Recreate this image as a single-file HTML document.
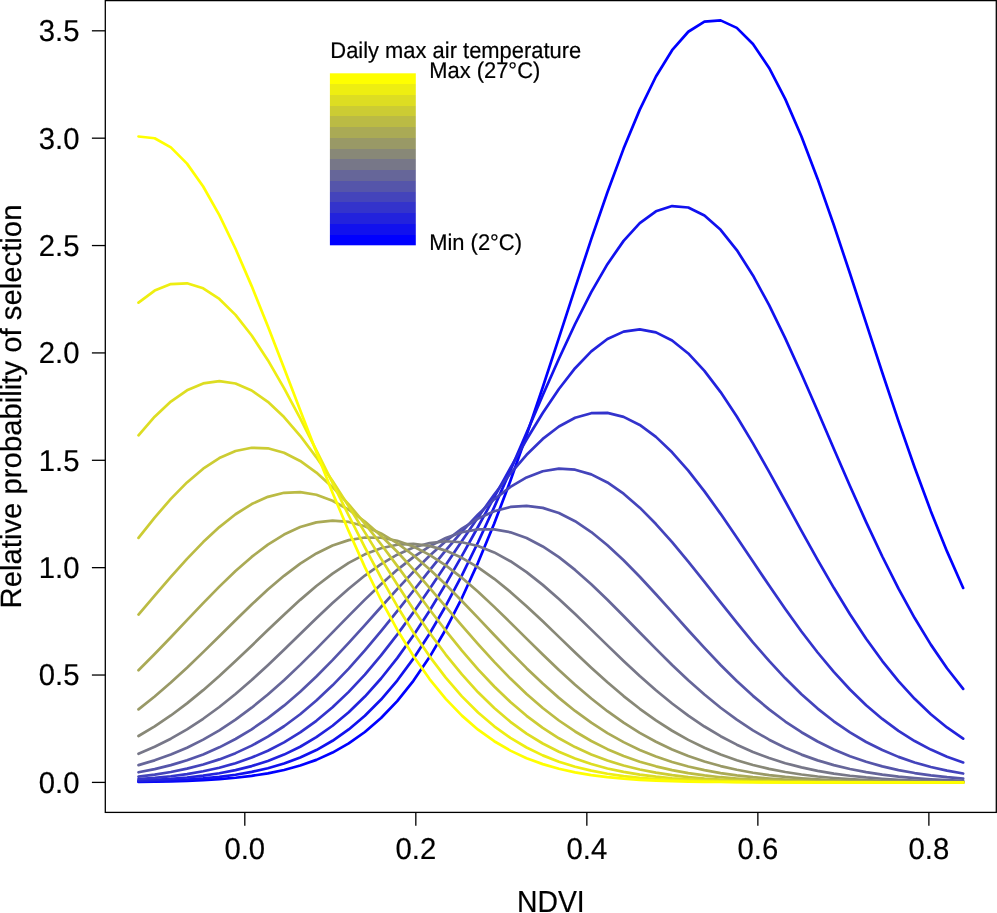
<!DOCTYPE html>
<html><head><meta charset="utf-8"><style>
html,body{margin:0;padding:0;background:#fff;}
svg{display:block;will-change:transform;}
text{font-family:"Liberation Sans",sans-serif;fill:#000;stroke:#000;stroke-width:0.2px;text-rendering:geometricPrecision;}
.t{font-size:30.2px;}
.l{font-size:29.3px;}
.n{font-size:30.5px;}
.g{font-size:22.7px;}
</style></head><body>
<svg width="997" height="913" viewBox="0 0 997 913">
<rect width="997" height="913" fill="#fff"/>
<g fill="none" stroke-width="2.7" stroke-linejoin="round" stroke-linecap="round">
<polyline points="138.50,781.92 154.67,781.68 170.84,781.32 187.01,780.82 203.18,780.11 219.35,779.11 235.52,777.73 251.69,775.86 267.86,773.33 284.03,769.98 300.20,765.57 316.37,759.88 332.54,752.60 348.71,743.43 364.88,732.01 381.05,718.01 397.22,701.07 413.39,680.85 429.56,657.06 445.73,629.49 461.90,598.01 478.07,562.60 494.24,523.41 510.41,480.76 526.58,435.14 542.75,387.22 558.92,337.87 575.09,288.13 591.26,239.15 607.43,192.21 623.60,148.60 639.77,109.62 655.94,76.47 672.11,50.22 688.28,31.76 704.45,21.70 720.62,20.40 736.79,27.89 752.96,43.92 769.13,67.95 785.30,99.16 801.47,136.54 817.64,178.91 833.81,225.00 849.98,273.51 866.15,323.15 882.32,372.73 898.49,421.17 914.66,467.56 930.83,511.15 947.00,551.40 963.17,587.94" stroke="#0000FF"/>
<polyline points="138.50,781.47 154.67,781.04 170.84,780.43 187.01,779.58 203.18,778.42 219.35,776.84 235.52,774.73 251.69,771.93 267.86,768.28 284.03,763.57 300.20,757.59 316.37,750.08 332.54,740.79 348.71,729.44 364.88,715.78 381.05,699.55 397.22,680.56 413.39,658.66 429.56,633.79 445.73,605.98 461.90,575.38 478.07,542.27 494.24,507.08 510.41,470.37 526.58,432.85 542.75,395.33 558.92,358.72 575.09,324.01 591.26,292.16 607.43,264.16 623.60,240.87 639.77,223.06 655.94,211.33 672.11,206.07 688.28,207.48 704.45,215.49 720.62,229.85 736.79,250.04 752.96,275.42 769.13,305.16 785.30,338.33 801.47,373.96 817.64,411.07 833.81,448.69 849.98,485.97 866.15,522.11 882.32,556.49 898.49,588.59 914.66,618.04 930.83,644.63 947.00,668.24 963.17,688.90" stroke="#1111EE"/>
<polyline points="138.50,780.64 154.67,779.90 170.84,778.88 187.01,777.50 203.18,775.66 219.35,773.24 235.52,770.10 251.69,766.07 267.86,760.97 284.03,754.59 300.20,746.74 316.37,737.20 332.54,725.77 348.71,712.27 364.88,696.54 381.05,678.51 397.22,658.13 413.39,635.48 429.56,610.69 445.73,584.05 461.90,555.91 478.07,526.77 494.24,497.20 510.41,467.89 526.58,439.56 542.75,413.00 558.92,388.96 575.09,368.20 591.26,351.38 607.43,339.04 623.60,331.62 639.77,329.36 655.94,332.34 672.11,340.46 688.28,353.44 704.45,370.84 720.62,392.09 736.79,416.52 752.96,443.37 769.13,471.88 785.30,501.27 801.47,530.82 817.64,559.86 833.81,587.81 849.98,614.22 866.15,638.72 882.32,661.07 898.49,681.13 914.66,698.84 930.83,714.25 947.00,727.46 963.17,738.62" stroke="#2222DD"/>
<polyline points="138.50,779.16 154.67,777.92 170.84,776.26 187.01,774.09 203.18,771.29 219.35,767.70 235.52,763.19 251.69,757.58 267.86,750.70 284.03,742.38 300.20,732.46 316.37,720.80 332.54,707.29 348.71,691.88 364.88,674.58 381.05,655.44 397.22,634.63 413.39,612.40 429.56,589.08 445.73,565.10 461.90,540.96 478.07,517.24 494.24,494.55 510.41,473.52 526.58,454.79 542.75,438.93 558.92,426.45 575.09,417.78 591.26,413.21 607.43,412.90 623.60,416.85 639.77,424.94 655.94,436.89 672.11,452.28 688.28,470.64 704.45,491.37 720.62,513.85 736.79,537.47 752.96,561.58 769.13,585.62 785.30,609.06 801.47,631.47 817.64,652.51 833.81,671.90 849.98,689.48 866.15,705.17 882.32,718.94 898.49,730.87 914.66,741.03 930.83,749.58 947.00,756.66 963.17,762.44" stroke="#3333CC"/>
<polyline points="138.50,776.60 154.67,774.58 170.84,771.98 187.01,768.67 203.18,764.53 219.35,759.40 235.52,753.15 251.69,745.62 267.86,736.69 284.03,726.25 300.20,714.23 316.37,700.58 332.54,685.33 348.71,668.57 364.88,650.45 381.05,631.22 397.22,611.19 413.39,590.74 429.56,570.33 445.73,550.45 461.90,531.64 478.07,514.43 494.24,499.35 510.41,486.87 526.58,477.41 542.75,471.27 558.92,468.68 575.09,469.72 591.26,474.35 607.43,482.42 623.60,493.65 639.77,507.67 655.94,524.03 672.11,542.22 688.28,561.70 704.45,581.95 720.62,602.44 736.79,622.70 752.96,642.32 769.13,660.95 785.30,678.31 801.47,694.22 817.64,708.57 833.81,721.29 849.98,732.41 866.15,741.97 882.32,750.08 898.49,756.87 914.66,762.46 930.83,767.01 947.00,770.65 963.17,773.54" stroke="#4444BB"/>
<polyline points="138.50,772.26 154.67,769.10 170.84,765.15 187.01,760.30 203.18,754.40 219.35,747.34 235.52,739.00 251.69,729.30 267.86,718.19 284.03,705.65 300.20,691.72 316.37,676.50 332.54,660.15 348.71,642.91 364.88,625.07 381.05,607.01 397.22,589.12 413.39,571.88 429.56,555.74 445.73,541.19 461.90,528.67 478.07,518.58 494.24,511.26 510.41,506.95 526.58,505.81 542.75,507.87 558.92,513.06 575.09,521.21 591.26,532.04 607.43,545.19 623.60,560.24 639.77,576.74 655.94,594.22 672.11,612.20 688.28,630.24 704.45,647.94 720.62,664.95 736.79,681.00 752.96,695.86 769.13,709.40 785.30,721.53 801.47,732.24 817.64,741.53 833.81,749.49 849.98,756.21 866.15,761.79 882.32,766.37 898.49,770.08 914.66,773.04 930.83,775.37 947.00,777.18 963.17,778.57" stroke="#5555AA"/>
<polyline points="138.50,765.13 154.67,760.35 170.84,754.58 187.01,747.71 203.18,739.64 219.35,730.30 235.52,719.65 251.69,707.70 267.86,694.51 284.03,680.17 300.20,664.88 316.37,648.85 332.54,632.39 348.71,615.86 364.88,599.63 381.05,584.15 397.22,569.83 413.39,557.12 429.56,546.40 445.73,538.03 461.90,532.29 478.07,529.38 494.24,529.38 510.41,532.31 526.58,538.06 542.75,546.44 558.92,557.17 575.09,569.89 591.26,584.21 607.43,599.70 623.60,615.93 639.77,632.46 655.94,648.92 672.11,664.94 688.28,680.24 704.45,694.57 720.62,707.76 736.79,719.70 752.96,730.34 769.13,739.68 785.30,747.74 801.47,754.61 817.64,760.38 833.81,765.15 849.98,769.04 866.15,772.17 882.32,774.66 898.49,776.61 914.66,778.12 930.83,779.28 947.00,780.14 963.17,780.79" stroke="#666699"/>
<polyline points="138.50,753.73 154.67,746.79 170.84,738.69 187.01,729.36 203.18,718.78 219.35,706.97 235.52,694.01 251.69,680.01 267.86,665.17 284.03,649.74 300.20,634.00 316.37,618.32 332.54,603.08 348.71,588.69 364.88,575.56 381.05,564.09 397.22,554.66 413.39,547.56 429.56,543.04 445.73,541.25 461.90,542.26 478.07,546.03 494.24,552.43 510.41,561.24 526.58,572.17 542.75,584.88 558.92,598.96 575.09,614.00 591.26,629.60 607.43,645.36 623.60,660.91 639.77,675.95 655.94,690.20 672.11,703.46 688.28,715.60 704.45,726.53 720.62,736.21 736.79,744.65 752.96,751.91 769.13,758.05 785.30,763.19 801.47,767.41 817.64,770.84 833.81,773.59 849.98,775.76 866.15,777.46 882.32,778.76 898.49,779.75 914.66,780.50 930.83,781.05 947.00,781.45 963.17,781.74" stroke="#777788"/>
<polyline points="138.50,736.03 154.67,726.36 170.84,715.46 187.01,703.37 203.18,690.16 219.35,676.00 235.52,661.08 251.69,645.66 267.86,630.08 284.03,614.67 300.20,599.85 316.37,586.01 332.54,573.57 348.71,562.90 364.88,554.36 381.05,548.23 397.22,544.72 413.39,543.94 429.56,545.92 445.73,550.60 461.90,557.82 478.07,567.33 494.24,578.81 510.41,591.92 526.58,606.24 542.75,621.36 558.92,636.89 575.09,652.45 591.26,667.68 607.43,682.30 623.60,696.07 639.77,708.80 655.94,720.38 672.11,730.74 688.28,739.87 704.45,747.79 720.62,754.57 736.79,760.27 752.96,765.01 769.13,768.89 785.30,772.03 801.47,774.53 817.64,776.50 833.81,778.02 849.98,779.19 866.15,780.08 882.32,780.74 898.49,781.22 914.66,781.58 930.83,781.83 947.00,782.01 963.17,782.14" stroke="#888877"/>
<polyline points="138.50,709.33 154.67,696.47 170.84,682.53 187.01,667.67 203.18,652.12 219.35,636.17 235.52,620.17 251.69,604.50 267.86,589.58 284.03,575.82 300.20,563.64 316.37,553.42 332.54,545.50 348.71,540.14 364.88,537.52 381.05,537.74 397.22,540.79 413.39,546.56 429.56,554.85 445.73,565.40 461.90,577.85 478.07,591.81 494.24,606.88 510.41,622.62 526.58,638.64 542.75,654.55 558.92,670.01 575.09,684.74 591.26,698.53 607.43,711.20 623.60,722.66 639.77,732.85 655.94,741.78 672.11,749.49 688.28,756.04 704.45,761.53 720.62,766.07 736.79,769.77 752.96,772.74 769.13,775.10 785.30,776.95 801.47,778.38 817.64,779.46 833.81,780.28 849.98,780.89 866.15,781.34 882.32,781.66 898.49,781.89 914.66,782.05 930.83,782.17 947.00,782.24 963.17,782.30" stroke="#999966"/>
<polyline points="138.50,670.21 154.67,654.04 170.84,637.24 187.01,620.14 203.18,603.13 219.35,586.63 235.52,571.08 251.69,556.93 267.86,544.63 284.03,534.56 300.20,527.04 316.37,522.35 332.54,520.64 348.71,521.96 364.88,526.27 381.05,533.43 397.22,543.19 413.39,555.23 429.56,569.16 445.73,584.55 461.90,600.96 478.07,617.93 494.24,635.04 510.41,651.89 526.58,668.16 542.75,683.56 558.92,697.87 575.09,710.94 591.26,722.70 607.43,733.09 623.60,742.15 639.77,749.92 655.94,756.50 672.11,761.98 688.28,766.49 704.45,770.15 720.62,773.07 736.79,775.38 752.96,777.18 769.13,778.56 785.30,779.61 801.47,780.40 817.64,780.98 833.81,781.40 849.98,781.71 866.15,781.93 882.32,782.08 898.49,782.18 914.66,782.26 930.83,782.31 947.00,782.34 963.17,782.36" stroke="#AAAA55"/>
<polyline points="138.50,614.58 154.67,595.59 170.84,576.85 187.01,558.86 203.18,542.10 219.35,527.08 235.52,514.26 251.69,504.06 267.86,496.82 284.03,492.78 300.20,492.08 316.37,494.75 332.54,500.70 348.71,509.72 364.88,521.50 381.05,535.67 397.22,551.77 413.39,569.31 429.56,587.80 445.73,606.74 461.90,625.68 478.07,644.19 494.24,661.93 510.41,678.60 526.58,694.01 542.75,708.00 558.92,720.50 575.09,731.49 591.26,741.02 607.43,749.16 623.60,756.00 639.77,761.68 655.94,766.32 672.11,770.07 688.28,773.05 704.45,775.40 720.62,777.22 736.79,778.61 752.96,779.65 769.13,780.44 785.30,781.01 801.47,781.43 817.64,781.73 833.81,781.94 849.98,782.09 866.15,782.19 882.32,782.26 898.49,782.31 914.66,782.34 930.83,782.36 947.00,782.38 963.17,782.39" stroke="#BBBB44"/>
<polyline points="138.50,537.87 154.67,517.56 170.84,498.89 187.01,482.42 203.18,468.66 219.35,458.08 235.52,451.02 251.69,447.73 267.86,448.32 284.03,452.78 300.20,460.94 316.37,472.53 332.54,487.16 348.71,504.36 364.88,523.59 381.05,544.28 397.22,565.86 413.39,587.76 429.56,609.47 445.73,630.54 461.90,650.59 478.07,669.31 494.24,686.50 510.41,702.02 526.58,715.81 542.75,727.87 558.92,738.27 575.09,747.09 591.26,754.48 607.43,760.58 623.60,765.54 639.77,769.53 655.94,772.68 672.11,775.15 688.28,777.06 704.45,778.51 720.62,779.59 736.79,780.40 752.96,780.99 769.13,781.42 785.30,781.73 801.47,781.94 817.64,782.09 833.81,782.20 849.98,782.27 866.15,782.31 882.32,782.34 898.49,782.36 914.66,782.38 930.83,782.39 947.00,782.39 963.17,782.39" stroke="#CCCC33"/>
<polyline points="138.50,435.34 154.67,416.70 170.84,401.52 187.01,390.31 203.18,383.44 219.35,381.16 235.52,383.53 251.69,390.49 267.86,401.80 284.03,417.05 300.20,435.76 316.37,457.33 332.54,481.08 348.71,506.33 364.88,532.40 381.05,558.63 397.22,584.43 413.39,609.29 429.56,632.77 445.73,654.57 461.90,674.46 478.07,692.31 494.24,708.08 510.41,721.80 526.58,733.56 542.75,743.49 558.92,751.77 575.09,758.56 591.26,764.06 607.43,768.46 623.60,771.92 639.77,774.62 655.94,776.69 672.11,778.25 688.28,779.43 704.45,780.29 720.62,780.92 736.79,781.38 752.96,781.70 769.13,781.93 785.30,782.08 801.47,782.19 817.64,782.26 833.81,782.31 849.98,782.34 866.15,782.36 882.32,782.38 898.49,782.39 914.66,782.39 930.83,782.39 947.00,782.40 963.17,782.40" stroke="#DDDD22"/>
<polyline points="138.50,302.64 154.67,290.57 170.84,284.04 187.01,283.28 203.18,288.31 219.35,298.96 235.52,314.86 251.69,335.48 267.86,360.14 284.03,388.07 300.20,418.42 316.37,450.33 332.54,482.95 348.71,515.50 364.88,547.27 381.05,577.66 397.22,606.18 413.39,632.49 429.56,656.35 445.73,677.65 461.90,696.35 478.07,712.53 494.24,726.33 510.41,737.93 526.58,747.53 542.75,755.38 558.92,761.70 575.09,766.73 591.26,770.68 607.43,773.73 623.60,776.06 639.77,777.82 655.94,779.13 672.11,780.09 688.28,780.79 704.45,781.29 720.62,781.64 736.79,781.89 752.96,782.06 769.13,782.18 785.30,782.25 801.47,782.31 817.64,782.34 833.81,782.36 849.98,782.38 866.15,782.39 882.32,782.39 898.49,782.39 914.66,782.40 930.83,782.40 947.00,782.40 963.17,782.40" stroke="#EEEE11"/>
<polyline points="138.50,136.51 154.67,138.22 170.84,147.37 187.01,163.65 203.18,186.51 219.35,215.18 235.52,248.73 251.69,286.12 267.86,326.24 284.03,367.98 300.20,410.26 316.37,452.11 332.54,492.65 348.71,531.16 364.88,567.08 381.05,600.01 397.22,629.69 413.39,656.02 429.56,679.03 445.73,698.83 461.90,715.62 478.07,729.65 494.24,741.22 510.41,750.63 526.58,758.17 542.75,764.13 558.92,768.79 575.09,772.38 591.26,775.10 607.43,777.15 623.60,778.67 639.77,779.78 655.94,780.58 672.11,781.15 688.28,781.55 704.45,781.83 720.62,782.02 736.79,782.15 752.96,782.24 769.13,782.30 785.30,782.34 801.47,782.36 817.64,782.37 833.81,782.38 849.98,782.39 866.15,782.39 882.32,782.40 898.49,782.40 914.66,782.40 930.83,782.40 947.00,782.40 963.17,782.40" stroke="#FFFF00"/>
</g>
<g stroke="none">
<defs><linearGradient id="cb" x1="0" y1="0" x2="0" y2="1"><stop offset="0.00000" stop-color="#FFFF00"/><stop offset="0.06250" stop-color="#FFFF00"/><stop offset="0.06250" stop-color="#EEEE11"/><stop offset="0.12500" stop-color="#EEEE11"/><stop offset="0.12500" stop-color="#DDDD22"/><stop offset="0.18750" stop-color="#DDDD22"/><stop offset="0.18750" stop-color="#CCCC33"/><stop offset="0.25000" stop-color="#CCCC33"/><stop offset="0.25000" stop-color="#BBBB44"/><stop offset="0.31250" stop-color="#BBBB44"/><stop offset="0.31250" stop-color="#AAAA55"/><stop offset="0.37500" stop-color="#AAAA55"/><stop offset="0.37500" stop-color="#999966"/><stop offset="0.43750" stop-color="#999966"/><stop offset="0.43750" stop-color="#888877"/><stop offset="0.50000" stop-color="#888877"/><stop offset="0.50000" stop-color="#777788"/><stop offset="0.56250" stop-color="#777788"/><stop offset="0.56250" stop-color="#666699"/><stop offset="0.62500" stop-color="#666699"/><stop offset="0.62500" stop-color="#5555AA"/><stop offset="0.68750" stop-color="#5555AA"/><stop offset="0.68750" stop-color="#4444BB"/><stop offset="0.75000" stop-color="#4444BB"/><stop offset="0.75000" stop-color="#3333CC"/><stop offset="0.81250" stop-color="#3333CC"/><stop offset="0.81250" stop-color="#2222DD"/><stop offset="0.87500" stop-color="#2222DD"/><stop offset="0.87500" stop-color="#1111EE"/><stop offset="0.93750" stop-color="#1111EE"/><stop offset="0.93750" stop-color="#0000FF"/><stop offset="1.00000" stop-color="#0000FF"/></linearGradient></defs>
<rect x="329.9" y="73.30" width="85.9" height="172.00" fill="url(#cb)"/>
</g>
<rect x="105.3" y="0.6" width="891" height="811.8" fill="none" stroke="#000" stroke-width="1.3"/>
<g stroke="#000" stroke-width="1.3">
<line x1="91.9" y1="782.40" x2="105.3" y2="782.40"/>
<text transform="translate(79.50,792.85) scale(0.9700,1)" text-anchor="end" class="t">0.0</text>
<line x1="91.9" y1="675.03" x2="105.3" y2="675.03"/>
<text transform="translate(79.50,685.48) scale(0.9700,1)" text-anchor="end" class="t">0.5</text>
<line x1="91.9" y1="567.66" x2="105.3" y2="567.66"/>
<text transform="translate(79.50,578.11) scale(0.9700,1)" text-anchor="end" class="t">1.0</text>
<line x1="91.9" y1="460.29" x2="105.3" y2="460.29"/>
<text transform="translate(79.50,470.74) scale(0.9700,1)" text-anchor="end" class="t">1.5</text>
<line x1="91.9" y1="352.92" x2="105.3" y2="352.92"/>
<text transform="translate(79.50,363.37) scale(0.9700,1)" text-anchor="end" class="t">2.0</text>
<line x1="91.9" y1="245.55" x2="105.3" y2="245.55"/>
<text transform="translate(79.50,256.00) scale(0.9700,1)" text-anchor="end" class="t">2.5</text>
<line x1="91.9" y1="138.18" x2="105.3" y2="138.18"/>
<text transform="translate(79.50,148.63) scale(0.9700,1)" text-anchor="end" class="t">3.0</text>
<line x1="91.9" y1="30.81" x2="105.3" y2="30.81"/>
<text transform="translate(79.50,41.26) scale(0.9700,1)" text-anchor="end" class="t">3.5</text>
<line x1="244.80" y1="812.4" x2="244.80" y2="825.7"/>
<text transform="translate(244.80,859.20) scale(0.9700,1)" text-anchor="middle" class="t">0.0</text>
<line x1="415.82" y1="812.4" x2="415.82" y2="825.7"/>
<text transform="translate(415.82,859.20) scale(0.9700,1)" text-anchor="middle" class="t">0.2</text>
<line x1="586.84" y1="812.4" x2="586.84" y2="825.7"/>
<text transform="translate(586.84,859.20) scale(0.9700,1)" text-anchor="middle" class="t">0.4</text>
<line x1="757.86" y1="812.4" x2="757.86" y2="825.7"/>
<text transform="translate(757.86,859.20) scale(0.9700,1)" text-anchor="middle" class="t">0.6</text>
<line x1="928.88" y1="812.4" x2="928.88" y2="825.7"/>
<text transform="translate(928.88,859.20) scale(0.9700,1)" text-anchor="middle" class="t">0.8</text>
</g>
<text transform="translate(550.8,912.0) scale(0.93,1)" text-anchor="middle" class="n">NDVI</text>
<text transform="translate(21.2,406.5) rotate(-90) scale(1.0,1)" text-anchor="middle" class="l">Relative probability of selection</text>
<text transform="translate(330.3,57.7) scale(0.966,1)" class="g">Daily max air temperature</text>
<text transform="translate(429.2,78.4) scale(0.966,1)" class="g">Max (27°C)</text>
<text transform="translate(429.2,250.2) scale(0.966,1)" class="g">Min (2°C)</text>
</svg>
</body></html>
